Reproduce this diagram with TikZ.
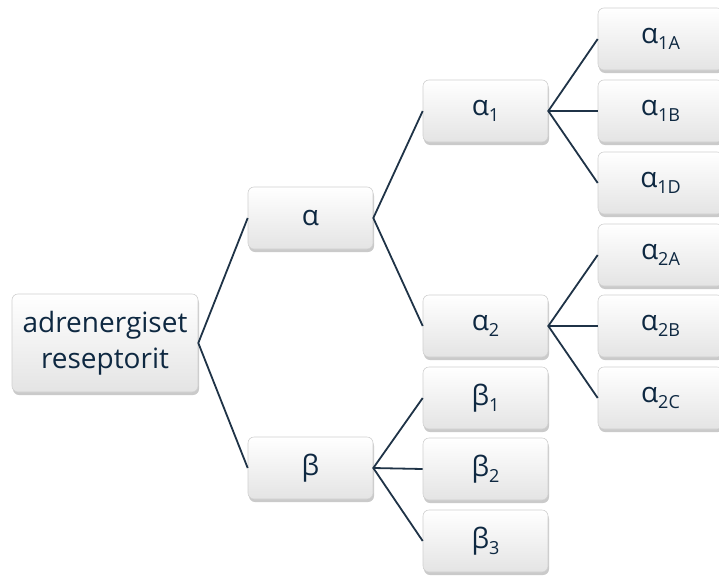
\documentclass[tikz,border=0pt]{standalone}
\usepackage{fontspec}
\setmainfont{Open Sans}
\usetikzlibrary{shadows}
\definecolor{ink}{HTML}{0E2841}
\definecolor{linec}{HTML}{1F3347}
\definecolor{boxbot}{HTML}{E4E4E4}
\definecolor{boxedge}{HTML}{D0D0D0}
\newcommand{\sbs}[1]{\raisebox{-0.4ex}{\fontsize{18}{18}\selectfont #1}}
\tikzset{
  box/.style={draw=boxedge, line width=0.6pt, rounded corners=6pt,
    top color=white, bottom color=boxbot, text=ink,
    minimum width=125pt, minimum height=62pt, inner sep=0pt,
    font=\fontsize{28}{36}\selectfont, align=center,
    drop shadow={shadow xshift=1pt, shadow yshift=-3pt, opacity=0.35, fill=black!60}},
  rootbox/.style={box, minimum width=186pt, minimum height=98pt},
  conn/.style={draw=linec, line width=1.8pt}
}
\begin{document}
\begin{tikzpicture}[x=1pt,y=-1pt]
\useasboundingbox (0,0) rectangle (719,578);
\begin{scope}
\clip (0,0) rectangle (719,578);
\node[rootbox] (root) at (105,343) {adrenergiset\\reseptorit};
\node[box] (a) at (310.5,218) {α};
\node[box] (b) at (310.5,468) {β};
\node[box] (a1) at (485.5,111) {α\sbs{1}};
\node[box] (a2) at (485.5,326) {α\sbs{2}};
\node[box] (b1) at (485.5,398) {β\sbs{1}};
\node[box] (b2) at (485.5,469) {β\sbs{2}};
\node[box] (b3) at (485.5,541) {β\sbs{3}};
\node[box] (a1A) at (660.5,39) {α\sbs{1A}};
\node[box] (a1B) at (660.5,111) {α\sbs{1B}};
\node[box] (a1D) at (660.5,183) {α\sbs{1D}};
\node[box] (a2A) at (660.5,255) {α\sbs{2A}};
\node[box] (a2B) at (660.5,326) {α\sbs{2B}};
\node[box] (a2C) at (660.5,398) {α\sbs{2C}};
\end{scope}
\draw[conn] (a.west) -- (root.east) -- (b.west);
\draw[conn] (a1.west) -- (a.east) -- (a2.west);
\draw[conn] (b1.west) -- (b.east) -- (b3.west);
\draw[conn] (b.east) -- (b2.west);
\draw[conn] (a1A.west) -- (a1.east) -- (a1D.west);
\draw[conn] (a1.east) -- (a1B.west);
\draw[conn] (a2A.west) -- (a2.east) -- (a2C.west);
\draw[conn] (a2.east) -- (a2B.west);
\end{tikzpicture}
\end{document}
